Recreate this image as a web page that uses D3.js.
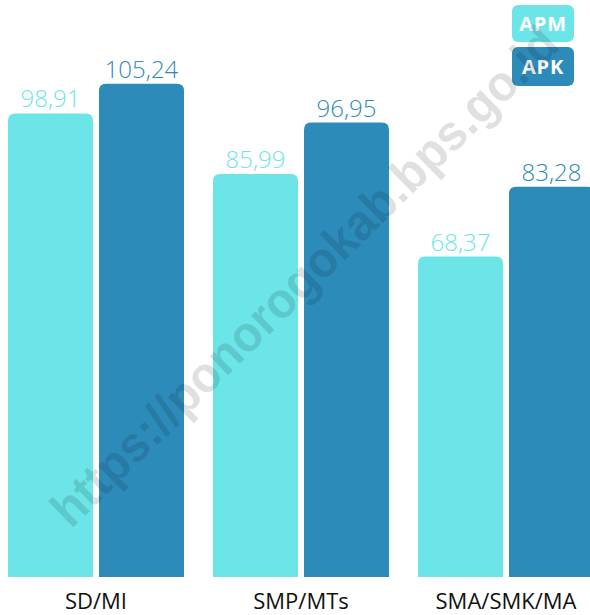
<!DOCTYPE html>
<html>
<head>
<meta charset="utf-8">
<script src="https://cdn.jsdelivr.net/npm/d3@7"></script>
<style>
  body { margin: 0; background: #fff; }
  svg { display: block; }
</style>
</head>
<body>
<div id="chart"></div>
<script>
// data
var categories = ["SD/MI", "SMP/MTs", "SMA/SMK/MA"];
var series = ["APM", "APK"];
var apm = [98.91, 85.99, 68.37];
var apk = [105.24, 96.95, 83.28];
var colors = ["#6ce5e8", "#2d8bba"];

var width = 590, height = 615;
var baseY = 577;

var svg = d3.select("#chart").append("svg")
    .attr("width", width)
    .attr("height", height);

var x0 = d3.scaleBand().domain(categories).range([8, 594])
    .paddingInner(0.1415).paddingOuter(0);
var x1 = d3.scaleBand().domain(series).range([0, x0.bandwidth()])
    .paddingInner(0.066);
var y = d3.scaleLinear().domain([0, 100]).range([baseY, baseY - 468.7]);
var color = d3.scaleOrdinal().domain(series).range(colors);

var rows = categories.map(function(c, i) {
  return { cat: c, vals: [{ s: "APM", v: apm[i] }, { s: "APK", v: apk[i] }] };
});

function topRounded(x, yTop, w, h, r) {
  return "M" + x + "," + (yTop + h) +
    "V" + (yTop + r) +
    "Q" + x + "," + yTop + " " + (x + r) + "," + yTop +
    "H" + (x + w - r) +
    "Q" + (x + w) + "," + yTop + " " + (x + w) + "," + (yTop + r) +
    "V" + (yTop + h) + "Z";
}

var fmt = function(v) { return d3.format(".2f")(v).replace(".", ","); };

var group = svg.selectAll("g.grp")
    .data(rows)
  .enter().append("g")
    .attr("class", "grp")
    .attr("transform", function(d) { return "translate(" + x0(d.cat) + ",0)"; });

group.selectAll("path")
    .data(function(d) { return d.vals; })
  .enter().append("path")
    .attr("d", function(d) {
      return topRounded(x1(d.s), y(d.v), x1.bandwidth(), baseY - y(d.v), 7);
    })
    .style("fill", function(d) { return color(d.s); });

group.selectAll("text.val")
    .data(function(d) { return d.vals; })
  .enter().append("text")
    .attr("class", "val")
    .attr("x", function(d) { return x1(d.s) + x1.bandwidth() / 2; })
    .attr("y", function(d) { return y(d.v) - 6; })
    .attr("text-anchor", "middle")
    .style("font-family", "'Open Sans', sans-serif")
    .style("font-weight", "300")
    .style("font-size", "24px")
    .style("fill", function(d) { return color(d.s); })
    .text(function(d) { return fmt(d.v); });

// category labels
var xAxis = d3.axisBottom(x0).tickSize(0).tickPadding(0);
var ax = svg.append("g")
    .attr("transform", "translate(0," + baseY + ")")
    .call(xAxis);
ax.select(".domain").remove();
ax.selectAll("text")
    .attr("dy", null)
    .attr("y", 32)
    .style("font-family", "'Open Sans', sans-serif")
    .style("font-size", "22px")
    .style("fill", "#111");

// legend
var legend = svg.selectAll("g.leg")
    .data(series)
  .enter().append("g")
    .attr("class", "leg")
    .attr("transform", function(d, i) { return "translate(512," + (5 + i * 42) + ")"; });
legend.append("rect")
    .attr("width", 62)
    .attr("height", function(d, i) { return i ? 39 : 37; })
    .attr("rx", 6)
    .style("fill", function(d) { return color(d); });
legend.append("text")
    .attr("x", 31)
    .attr("y", function(d, i) { return i ? 27 : 26; })
    .attr("text-anchor", "middle")
    .style("font-family", "'Open Sans', sans-serif")
    .style("font-weight", "700")
    .style("font-size", "20px")
    .style("letter-spacing", "0.8px")
    .style("fill", "#fff")
    .text(function(d) { return d; });

// watermark
svg.append("text")
    .attr("transform", "translate(304,276) rotate(-44.5)")
    .attr("text-anchor", "middle")
    .attr("dy", "0.35em")
    .attr("textLength", 688)
    .attr("lengthAdjust", "spacingAndGlyphs")
    .style("font-family", "'Liberation Sans', Arial, sans-serif")
    .style("font-weight", "700")
    .style("font-size", "50px")
    .style("fill", "#000")
    .style("fill-opacity", 0.12)
    .text("https://ponorogokab.bps.go.id");
</script>
</body>
</html>
